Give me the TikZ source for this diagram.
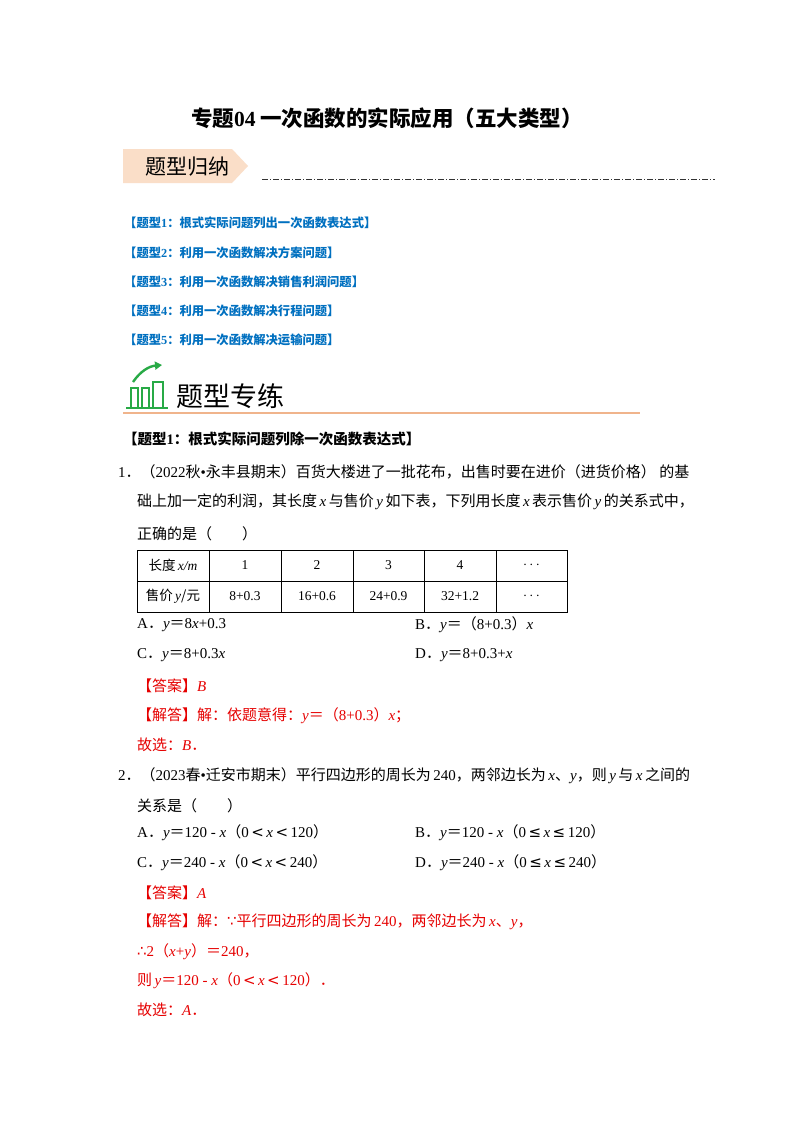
\documentclass[tikz,border=0pt]{standalone}
\usepackage{fontspec}
\setmainfont{Noto Sans CJK SC}
\newfontfamily\tm{Liberation Serif}
\newfontfamily\djv{DejaVu Sans}
\usetikzlibrary{arrows.meta}
\definecolor{tblue}{RGB}{0,112,192}
\definecolor{tred}{RGB}{230,0,0}
\definecolor{peach}{RGB}{250,222,200}
\definecolor{oline}{RGB}{240,180,140}
\definecolor{tgreen}{RGB}{40,170,70}
\newcommand{\vv}[1]{{\tm\itshape #1}}
\newcommand{\nn}[1]{{\tm #1}}
\begin{document}
\begin{tikzpicture}[x=1pt,y=-1pt,
  txt/.style={anchor=west,inner sep=0pt,font=\fontsize{15}{16}\selectfont},
  blue/.style={txt,text=tblue,font=\fontsize{12.3}{14}\selectfont\bfseries},
  red/.style={txt,text=tred},
  cell/.style={inner sep=0pt,font=\fontsize{13.5}{14}\selectfont}]
\useasboundingbox (0,0) rectangle (800,1132);
\fill[white] (0,0) rectangle (800,1132);
\node[inner sep=0pt,font=\fontsize{21.5}{22}\selectfont\bfseries] (title) at (387,118) {专题\nn{04}\ 一次函数的实际应用（五大类型）};
% banner
\fill[peach] (123,149) -- (232,149) -- (248,166) -- (232,183) -- (123,183) -- cycle;
\node[inner sep=0pt,font=\fontsize{21}{22}\selectfont] (ban) at (187,167) {题型归纳};
\draw[black!80,dash pattern=on 6pt off 2pt on 1pt off 2pt,line width=0.7pt] (262,179) -- (715,179);
\node[blue] (b1) at (124,223) {【题型\nn{1}：根式实际问题列出一次函数表达式】};
\node[blue] (b2) at (124,253) {【题型\nn{2}：利用一次函数解决方案问题】};
\node[blue] (b3) at (124,282) {【题型\nn{3}：利用一次函数解决销售利润问题】};
\node[blue] (b4) at (124,311) {【题型\nn{4}：利用一次函数解决行程问题】};
\node[blue] (b5) at (124,340) {【题型\nn{5}：利用一次函数解决运输问题】};
% icon
\begin{scope}[tgreen,line width=2.4pt]
\draw (126,408) -- (168,408);
\draw (131,407) -- (131,388) -- (138,388) -- (138,407);
\draw (142,407) -- (142,388) -- (149,388) -- (149,407);
\draw (153,407) -- (153,382) -- (163,382) -- (163,407);
\draw[-{Triangle[length=7pt,width=8pt]}] (133,382) to[bend left=25] (162,365);
\end{scope}
\node[inner sep=0pt,font=\fontsize{27}{28}\selectfont] (zl) at (230,396) {题型专练};
\draw[oline,line width=1.5pt] (123,413) -- (640,413);
\node[txt,font=\fontsize{14.5}{16}\selectfont\bfseries] (h1) at (123,439) {【题型\nn{1}：根式实际问题列除一次函数表达式】};
% Q1
\node[txt] (q1a) at (118,472) {\nn{1}．（\nn{2022}秋\nn{•}永丰县期末）百货大楼进了一批花布，出售时要在进价（进货价格）\ 的基};
\node[txt] (q1b) at (137,502) {础上加一定的利润，其长度\,\vv{x}\,与售价\,\vv{y}\,如下表，下列用长度\,\vv{x}\,表示售价\,\vv{y}\,的关系式中，};
\node[txt] (q1c) at (137,534) {正确的是（\qquad）};
% table
\draw[line width=0.8pt] (137,550) rectangle (567,612);
\draw[line width=0.8pt] (137,581) -- (567,581);
\foreach \x in {209,281,353,424,496} \draw[line width=0.8pt] (\x,550) -- (\x,612);
\node[cell] (c11) at (173,565.5) {长度\,\vv{x/m}};
\node[cell] (c21) at (173,596.5) {售价\,\vv{y}/元};
\node[cell] (c12) at (245,565.5) {\nn{1}};
\node[cell] (c13) at (317,565.5) {\nn{2}};
\node[cell] (c14) at (388.5,565.5) {\nn{3}};
\node[cell] (c15) at (460,565.5) {\nn{4}};
\node[cell] (c16) at (531.5,565.5) {\nn{$\cdots$}};
\node[cell] (c22) at (245,596.5) {\nn{8+0.3}};
\node[cell] (c23) at (317,596.5) {\nn{16+0.6}};
\node[cell] (c24) at (388.5,596.5) {\nn{24+0.9}};
\node[cell] (c25) at (460,596.5) {\nn{32+1.2}};
\node[cell] (c26) at (531.5,596.5) {\nn{$\cdots$}};
\node[txt] (o1a) at (137,625) {\nn{A}．\vv{y}＝\nn{8}\vv{x}\nn{+0.3}};
\node[txt] (o1b) at (415,625) {\nn{B}．\vv{y}＝（\nn{8+0.3}）\vv{x}};
\node[txt] (o1c) at (137,655) {\nn{C}．\vv{y}＝\nn{8+0.3}\vv{x}};
\node[txt] (o1d) at (415,655) {\nn{D}．\vv{y}＝\nn{8+0.3+}\vv{x}};
\node[red] (a1) at (137,686) {【答案】\vv{B}};
\node[red] (s1) at (137,716) {【解答】解：依题意得：\vv{y}＝（\nn{8+0.3}）\vv{x}；};
\node[red] (g1) at (137,745) {故选：\vv{B}．};
% Q2
\node[txt] (q2a) at (118,776) {\nn{2}．（\nn{2023}春\nn{•}迁安市期末）平行四边形的周长为\,\nn{240}，两邻边长为\,\vv{x}、\vv{y}，则\,\vv{y}\,与\,\vv{x}\,之间的};
\node[txt] (q2b) at (137,806) {关系是（\qquad）};
\node[txt] (o2a) at (137,833) {\nn{A}．\vv{y}＝\nn{120 - }\vv{x}（\nn{0}\,{\djv <}\,\vv{x}\,{\djv <}\,\nn{120}）};
\node[txt] (o2b) at (415,833) {\nn{B}．\vv{y}＝\nn{120 - }\vv{x}（\nn{0}\,{\djv ≤}\,\vv{x}\,{\djv ≤}\,\nn{120}）};
\node[txt] (o2c) at (137,863) {\nn{C}．\vv{y}＝\nn{240 - }\vv{x}（\nn{0}\,{\djv <}\,\vv{x}\,{\djv <}\,\nn{240}）};
\node[txt] (o2d) at (415,863) {\nn{D}．\vv{y}＝\nn{240 - }\vv{x}（\nn{0}\,{\djv ≤}\,\vv{x}\,{\djv ≤}\,\nn{240}）};
\node[red] (a2) at (137,893) {【答案】\vv{A}};
\node[red] (s2) at (137,922) {【解答】解：{\djv ∵}平行四边形的周长为\,\nn{240}，两邻边长为\,\vv{x}、\vv{y}，};
\node[red] (t2) at (137,952) {{\djv ∴}\nn{2}（\vv{x}\nn{+}\vv{y}）＝\nn{240}，};
\node[red] (z2) at (137,981) {则\,\vv{y}＝\nn{120 - }\vv{x}（\nn{0}\,{\djv <}\,\vv{x}\,{\djv <}\,\nn{120}）．};
\node[red] (g2) at (137,1010) {故选：\vv{A}．};
\end{tikzpicture}
\end{document}
